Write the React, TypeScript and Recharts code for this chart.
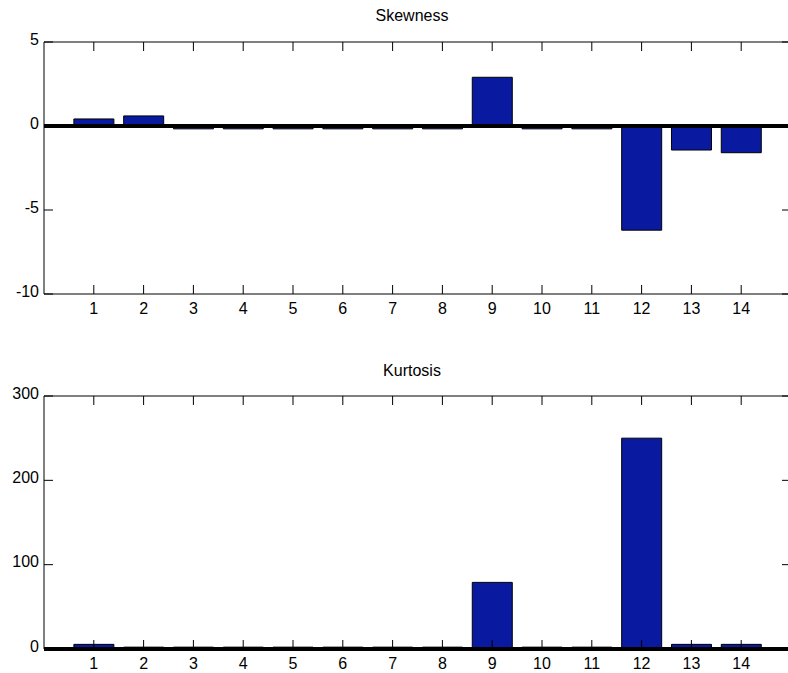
import { BarChart, Bar, XAxis, YAxis, ReferenceLine } from "recharts"

const categories = [1, 2, 3, 4, 5, 6, 7, 8, 9, 10, 11, 12, 13, 14]
const skewness = [0.42, 0.6, -0.17, -0.17, -0.17, -0.17, -0.17, -0.17, 2.9, -0.17, -0.17, -6.2, -1.43, -1.59]
const kurtosis = [5.5, 2.2, 2.2, 2.2, 2.2, 2.2, 2.2, 2.2, 79, 2.2, 2.2, 250, 5.5, 5.5]
const skewTicks = [-10, -5, 0, 5]
const kurtTicks = [0, 100, 200, 300]

const FONT = '"Liberation Sans", Arial, Helvetica, sans-serif'
const BAR_FILL = "#0A1AA0"
const CHART_W = 791
const Y_AXIS_W = 44
const TICK_LEN = 9
const X_MARGIN = 9
const Y_MARGIN = 5

const skewData = categories.map((c, i) => ({ x: c, value: skewness[i] }))
const kurtData = categories.map((c, i) => ({ x: c, value: kurtosis[i] }))

// bottom labels + inward tick marks on bottom and top edges
function XTick({ x, y, payload, plotTop }: any) {
  const axisY = y - X_MARGIN
  return (
    <g>
      <line x1={x} x2={x} y1={axisY} y2={axisY - TICK_LEN} stroke="#000" />
      <line x1={x} x2={x} y1={plotTop} y2={plotTop + TICK_LEN} stroke="#000" />
      <text x={x} y={y} dy="0.71em" textAnchor="middle" fill="#000" fontSize={16} fontFamily={FONT}>
        {payload.value}
      </text>
    </g>
  )
}

// left labels + inward tick marks on left and right edges
function YTick({ x, y, payload }: any) {
  const axisX = x + Y_MARGIN
  return (
    <g>
      <line x1={axisX} x2={axisX + TICK_LEN} y1={y} y2={y} stroke="#000" />
      <line x1={CHART_W} x2={CHART_W - TICK_LEN} y1={y} y2={y} stroke="#000" />
      <text x={x} y={y - 3} dy="0.355em" textAnchor="end" fill="#000" fontSize={16} fontFamily={FONT}>
        {payload.value}
      </text>
    </g>
  )
}

interface PanelProps {
  data: { x: number; value: number }[]
  domain: [number, number]
  ticks: number[]
  height: number
  marginTop: number
  xAxisHeight: number
}

function Panel({ data, domain, ticks, height, marginTop, xAxisHeight }: PanelProps) {
  return (
    <BarChart
      width={CHART_W}
      height={height}
      data={data}
      margin={{ top: marginTop, right: 0, bottom: 0, left: 0 }}
      barCategoryGap="10%"
    >
      <XAxis
        dataKey="x"
        type="number"
        domain={[0, 15]}
        ticks={categories}
        height={xAxisHeight}
        stroke="#000"
        tickLine={false}
        tickSize={0}
        tickMargin={X_MARGIN}
        tick={(p: any) => <XTick {...p} plotTop={marginTop} />}
        allowDataOverflow
      />
      <YAxis
        type="number"
        domain={domain}
        ticks={ticks}
        width={Y_AXIS_W}
        stroke="#000"
        tickLine={false}
        tickSize={0}
        tickMargin={Y_MARGIN}
        tick={(p: any) => <YTick {...p} />}
        allowDataOverflow
      />
      <Bar dataKey="value" fill={BAR_FILL} stroke="#000" strokeWidth={1} isAnimationActive={false} />
      <ReferenceLine y={domain[1]} stroke="#000" strokeWidth={1} />
      <ReferenceLine x={15} stroke="#000" strokeWidth={1} />
      <ReferenceLine y={0} stroke="#000" strokeWidth={4} />
    </BarChart>
  )
}

const titleStyle: React.CSSProperties = {
  position: "absolute",
  left: 412,
  transform: "translateX(-50%)",
  fontFamily: FONT,
  fontSize: 16,
  lineHeight: "16px",
  color: "#000",
  whiteSpace: "nowrap",
}

export default function App() {
  return (
    <div
      style={{
        position: "absolute",
        left: 0,
        top: 0,
        width: 788,
        height: 673,
        overflow: "hidden",
        background: "#fff",
      }}
    >
      <div style={{ ...titleStyle, top: 8 }}>Skewness</div>
      <div style={{ position: "absolute", left: 0, top: 0 }}>
        <Panel
          data={skewData}
          domain={[-10, 5]}
          ticks={skewTicks}
          height={330}
          marginTop={42}
          xAxisHeight={36}
        />
      </div>
      <div style={{ ...titleStyle, top: 363 }}>Kurtosis</div>
      <div style={{ position: "absolute", left: 0, top: 340 }}>
        <Panel
          data={kurtData}
          domain={[0, 300]}
          ticks={kurtTicks}
          height={333}
          marginTop={56}
          xAxisHeight={24}
        />
      </div>
    </div>
  )
}
